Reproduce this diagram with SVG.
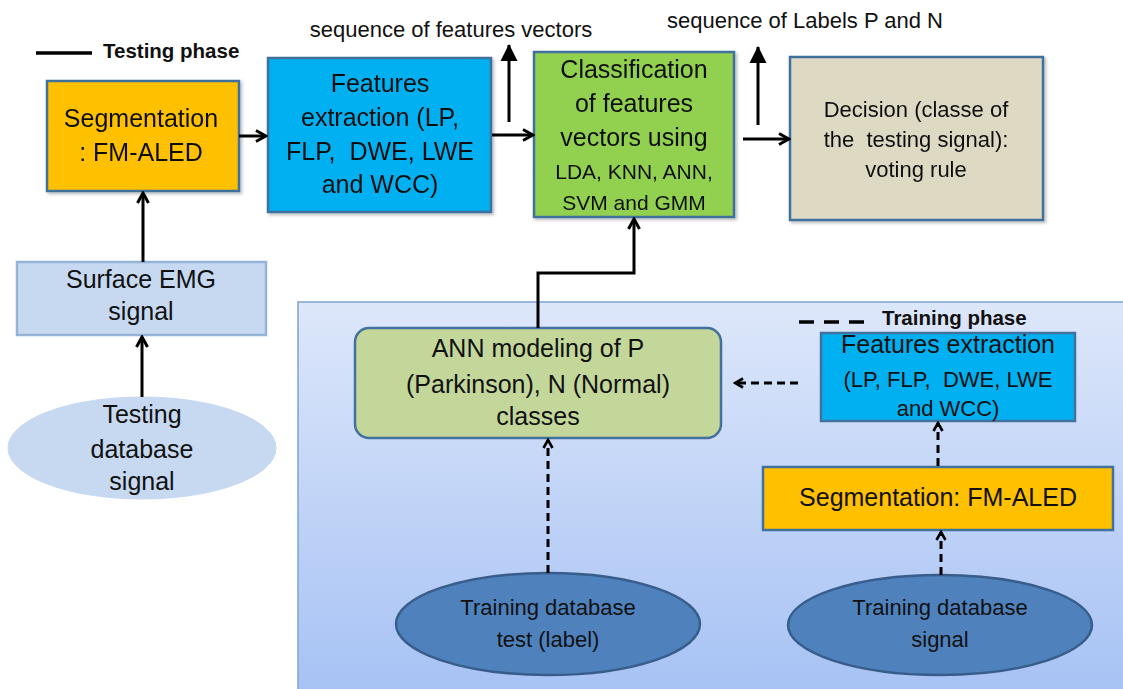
<svg xmlns="http://www.w3.org/2000/svg" width="1123" height="689" viewBox="0 0 1123 689">
<defs>
<linearGradient id="panelGrad" x1="0" y1="0" x2="0" y2="1">
<stop offset="0" stop-color="#DDE7FA"/>
<stop offset="1" stop-color="#A5C1F4"/>
</linearGradient>
<filter id="sh" x="-10%" y="-10%" width="130%" height="130%">
<feDropShadow dx="2" dy="2" stdDeviation="1.5" flood-color="#000" flood-opacity="0.25"/>
</filter>
<marker id="open" viewBox="0 0 14 14" refX="12" refY="7" markerWidth="14" markerHeight="14" markerUnits="userSpaceOnUse" orient="auto">
<path d="M2,1.5 L12,7 L2,12.5" fill="none" stroke="#000" stroke-width="3" stroke-linejoin="miter"/>
</marker>
<marker id="openS" viewBox="0 0 12 12" refX="10" refY="6" markerWidth="12" markerHeight="12" markerUnits="userSpaceOnUse" orient="auto">
<path d="M2,1.5 L10,6 L2,10.5" fill="none" stroke="#000" stroke-width="2.6"/>
</marker>
<marker id="tri" viewBox="0 0 18 18" refX="16" refY="9" markerWidth="18" markerHeight="18" markerUnits="userSpaceOnUse" orient="auto">
<path d="M0,0.5 L17,9 L0,17.5 z" fill="#000"/>
</marker>
</defs>
<style>
text{font-family:"Liberation Sans",Arial,sans-serif;fill:#111;text-anchor:middle}
.t25{font-size:25px}
.t22{font-size:22px}
.t21{font-size:21px}
.leg{font-size:20.5px;font-weight:bold;text-anchor:start}
.box{stroke:#41719C;stroke-width:2.5}
.orange{fill:#FFC000}
.blue{fill:#00B0F0}
.green{fill:#92D050}
.beige{fill:#DDD9C3}
.olive{fill:#C4D79B}
.lightbox{fill:#C6D9F1;stroke:#95B3D7;stroke-width:2.5}
.lightell{fill:#C6D9F1;stroke:#C6D9F1;stroke-width:1}
.darkell{fill:#4F81BD;stroke:#385D8A;stroke-width:2.5}
.c{fill:none;stroke:#000;stroke-width:3}
.d{fill:none;stroke:#000;stroke-width:3;stroke-dasharray:8 5}
.ts{font-size:22px}
</style>

<g id="training-panel">
<rect x="298" y="302" width="835" height="400" fill="url(#panelGrad)" stroke="#7FA2D6" stroke-width="1.5"/>
</g>

<g id="legend-testing">
<line x1="36" y1="53" x2="92" y2="53" stroke="#000" stroke-width="3.5"/>
<text class="leg" x="103" y="58">Testing phase</text>
</g>
<g id="legend-training">
<line x1="799" y1="322" x2="865" y2="322" stroke="#000" stroke-width="3.5" stroke-dasharray="15 10"/>
<text class="leg" x="882" y="325">Training phase</text>
</g>

<g id="label-features-vectors">
<text class="ts" x="451" y="37">sequence of features vectors</text>
</g>
<g id="label-labels">
<text class="ts" x="805" y="28">sequence of Labels P and N</text>
</g>

<g id="seg-test" filter="url(#sh)">
<rect class="box orange" x="47" y="81" width="192" height="110"/>
<text class="t25" x="141" y="127">Segmentation</text>
<text class="t25" x="141" y="161">: FM-ALED</text>
</g>

<g id="features-test" filter="url(#sh)">
<rect class="box blue" x="268" y="58" width="223" height="154"/>
<text class="t25" x="380" y="92">Features</text>
<text class="t25" x="380" y="126">extraction (LP,</text>
<text class="t25" x="380" y="160" xml:space="preserve">FLP,  DWE, LWE</text>
<text class="t25" x="380" y="193">and WCC)</text>
</g>

<g id="classification" filter="url(#sh)">
<rect class="box green" x="534" y="52" width="200" height="165"/>
<text class="t25" x="634" y="78">Classification</text>
<text class="t25" x="634" y="112">of features</text>
<text class="t25" x="634" y="146">vectors using</text>
<text class="t21" x="634" y="179">LDA, KNN, ANN,</text>
<text class="t21" x="634" y="210">SVM and GMM</text>
</g>

<g id="decision" filter="url(#sh)">
<rect class="box beige" x="790" y="57" width="253" height="163"/>
<text class="t22" x="916" y="117">Decision (classe of</text>
<text class="t22" x="916" y="147" xml:space="preserve">the  testing signal):</text>
<text class="t22" x="916" y="177">voting rule</text>
</g>

<g id="surface-emg">
<rect class="lightbox" x="17" y="262" width="249" height="73"/>
<text class="t25" x="141" y="288">Surface EMG</text>
<text class="t25" x="141" y="320">signal</text>
</g>

<g id="testing-db">
<ellipse class="lightell" cx="142" cy="448" rx="134" ry="51"/>
<text class="t25" x="142" y="423">Testing</text>
<text class="t25" x="142" y="458">database</text>
<text class="t25" x="142" y="490">signal</text>
</g>

<g id="ann-model">
<rect class="box olive" x="355" y="328" width="366" height="110" rx="14" ry="14"/>
<text class="t25" x="538" y="357">ANN modeling of P</text>
<text class="t25" x="538" y="393">(Parkinson), N (Normal)</text>
<text class="t25" x="538" y="425">classes</text>
</g>

<g id="features-train">
<rect class="box blue" x="821" y="333" width="254" height="88"/>
<text class="t25" x="948" y="353">Features extraction</text>
<text class="t22" x="948" y="387" xml:space="preserve">(LP, FLP,  DWE, LWE</text>
<text class="t22" x="948" y="416">and WCC)</text>
</g>

<g id="seg-train">
<rect class="box orange" x="763" y="467" width="350" height="63"/>
<text class="t25" x="938" y="506">Segmentation: FM-ALED</text>
</g>

<g id="train-db-test">
<ellipse class="darkell" cx="548" cy="624" rx="152" ry="51"/>
<text class="t22" x="548" y="615">Training database</text>
<text class="t22" x="548" y="647">test (label)</text>
</g>

<g id="train-db-signal">
<ellipse class="darkell" cx="940" cy="625" rx="152" ry="50"/>
<text class="t22" x="940" y="615">Training database</text>
<text class="t22" x="940" y="647">signal</text>
</g>

<g id="connectors">
<line class="c" x1="239" y1="136" x2="266" y2="136" marker-end="url(#open)"/>
<line class="c" x1="492" y1="135" x2="533" y2="135" marker-end="url(#open)"/>
<line class="c" x1="509" y1="122" x2="509" y2="45" marker-end="url(#tri)"/>
<line class="c" x1="743" y1="139" x2="789" y2="139" marker-end="url(#open)"/>
<line class="c" x1="758" y1="125" x2="758" y2="47" marker-end="url(#tri)"/>
<line class="c" x1="143" y1="262" x2="143" y2="193" marker-end="url(#open)"/>
<line class="c" x1="142" y1="397" x2="142" y2="337" marker-end="url(#open)"/>
<polyline class="c" points="538,328 538,273 634,273 634,219" marker-end="url(#open)"/>
<line class="d" x1="798" y1="383" x2="735" y2="383" marker-end="url(#openS)"/>
<line class="d" x1="938" y1="466" x2="938" y2="423" marker-end="url(#openS)"/>
<line class="d" x1="941" y1="575" x2="941" y2="532" marker-end="url(#openS)"/>
<line class="d" x1="548" y1="573" x2="548" y2="440" marker-end="url(#openS)"/>
</g>
</svg>
